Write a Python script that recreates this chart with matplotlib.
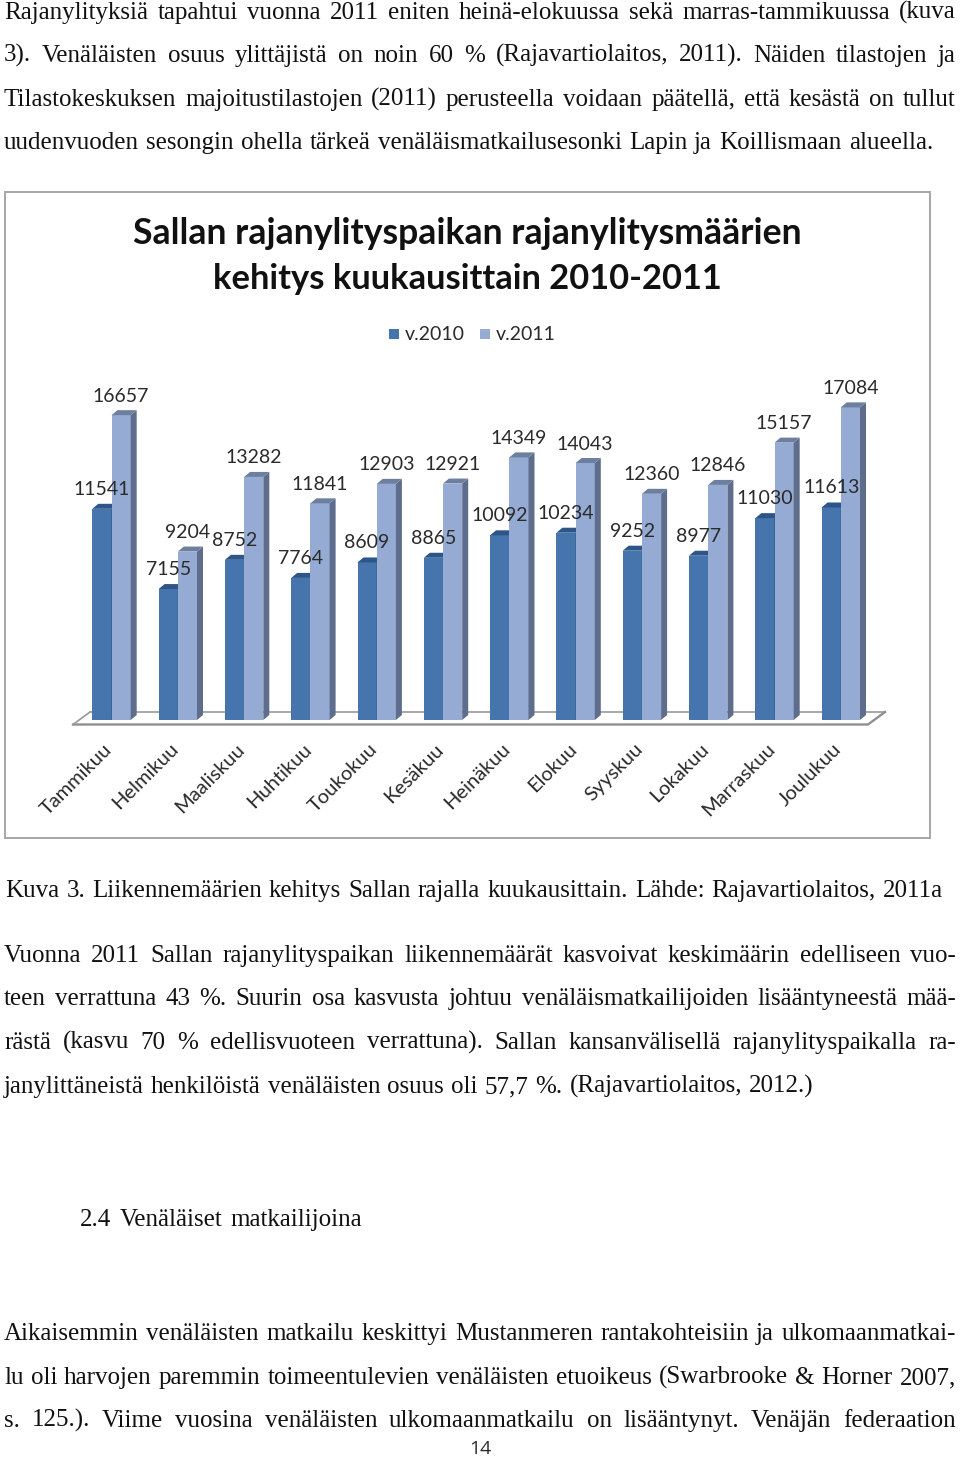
import matplotlib
matplotlib.use("Agg")
import matplotlib.pyplot as plt
from matplotlib.patches import Rectangle

W, H = 960, 1460

months = ["Tammikuu", "Helmikuu", "Maaliskuu", "Huhtikuu", "Toukokuu", "Kesäkuu",
          "Heinäkuu", "Elokuu", "Syyskuu", "Lokakuu", "Marraskuu", "Joulukuu"]
v2010 = [11541, 7155, 8752, 7764, 8609, 8865, 10092, 10234, 9252, 8977, 11030, 11613]
v2011 = [16657, 9204, 13282, 11841, 12903, 12921, 14349, 14043, 12360, 12846, 15157, 17084]

title_lines = ["Sallan rajanylityspaikan rajanylitysmäärien", "kehitys kuukausittain 2010-2011"]

# page text: (text, baseline y, left px, right px)
page_text = [
    ("Rajanylityksiä tapahtui vuonna 2011 eniten heinä-elokuussa sekä marras-tammikuussa (kuva", 19, 4, 956),
    ("3). Venäläisten osuus ylittäjistä on noin 60 % (Rajavartiolaitos, 2011). Näiden tilastojen ja", 62, 4, 956),
    ("Tilastokeskuksen majoitustilastojen (2011) perusteella voidaan päätellä, että kesästä on tullut", 106, 4, 956),
    ("uudenvuoden sesongin ohella tärkeä venäläismatkailusesonki Lapin ja Koillismaan alueella.", 149, 4, 933),
    ("Kuva 3. Liikennemäärien kehitys Sallan rajalla kuukausittain. Lähde: Rajavartiolaitos, 2011a", 897, 5, 943),
    ("Vuonna 2011 Sallan rajanylityspaikan liikennemäärät kasvoivat keskimäärin edelliseen vuo-", 962, 4, 956),
    ("teen verrattuna 43 %. Suurin osa kasvusta johtuu venäläismatkailijoiden lisääntyneestä mää-", 1005, 4, 956),
    ("rästä (kasvu 70 % edellisvuoteen verrattuna). Sallan kansanvälisellä rajanylityspaikalla ra-", 1049, 4, 956),
    ("janylittäneistä henkilöistä venäläisten osuus oli 57,7 %. (Rajavartiolaitos, 2012.)", 1093, 4, 814),
    ("2.4 Venäläiset matkailijoina", 1226, 80, 362),
    ("Aikaisemmin venäläisten matkailu keskittyi Mustanmeren rantakohteisiin ja ulkomaanmatkai-", 1340, 4, 956),
    ("lu oli harvojen paremmin toimeentulevien venäläisten etuoikeus (Swarbrooke & Horner 2007,", 1384, 4, 956),
    ("s. 125.). Viime vuosina venäläisten ulkomaanmatkailu on lisääntynyt. Venäjän federaation", 1427, 4, 956),
]

c2010, c2010_top = "#4674ac", "#2d5588"
c2011, c2011_top, c2011_side = "#95abd3", "#6d7f9f", "#5f6d8c"
text_dark = "#2a2a2a"

fig = plt.figure(figsize=(W / 100, H / 100), dpi=100, facecolor="white")

# axes covers the chart from the baseline up to the frame top
px_per_cat = 66.3
px_per_unit = 0.0183
ax = fig.add_axes([5 / W, (H - 720) / H, 925 / W, 528 / H])
ax.set_xlim((5 - 111.5) / px_per_cat, (930 - 111.5) / px_per_cat)
ax.set_ylim(0, 528 / px_per_unit)
ax.patch.set_visible(False)
for s in ax.spines.values():
    s.set_visible(False)
ax.set_yticks([])

dx = 6 / px_per_cat
dy = 5 / px_per_unit
w = 19.2 / px_per_cat

# floor of the 3D plot
fx0, fx1 = (73 - 111.5) / px_per_cat, (885 - 111.5) / px_per_cat
fdx = 17 / px_per_cat
fy = -4.5 / px_per_unit
ax.plot([fx0 + fdx, fx1], [8 / px_per_unit] * 2, color="#999999", lw=1.2, zorder=1, clip_on=False)
ax.plot([fx0, fx1 - fdx, fx1], [fy, fy, 8 / px_per_unit], color="#8f8f8f", lw=1.7, zorder=1, clip_on=False)
ax.plot([fx0, fx0 + fdx], [fy, 8 / px_per_unit], color="#999999", lw=1.2, zorder=1, clip_on=False)


def bar3d(left, val, col, col_top, col_side, z):
    ax.bar(left, val, width=w, align="edge", color=col, lw=0, zorder=z)
    r = left + w
    ax.fill([r, r + dx, r + dx, r], [0, dy, val + dy, val], color=col_side, lw=0, zorder=z)
    ax.fill([left, left + dx, r + dx, r], [val, val + dy, val + dy, val], color=col_top, lw=0, zorder=z)


for i in range(len(months)):
    bar3d(i - w, v2010[i], c2010, c2010_top, "#33567f", 2 + i * 2)
    bar3d(i, v2011[i], c2011, c2011_top, c2011_side, 3 + i * 2)

    ax.annotate(str(v2010[i]), (i - w / 2, v2010[i]), xytext=(0, 19.5 * 0.72), textcoords="offset points",
                ha="center", va="center", fontsize=14, family="Lato", color=text_dark, zorder=60)
    ax.annotate(str(v2011[i]), (i + w / 2, v2011[i]), xytext=(0, 19 * 0.72), textcoords="offset points",
                ha="center", va="center", fontsize=14, family="Lato", color=text_dark, zorder=60)

ax.set_xticks([i - 0.03 for i in range(len(months))])
ax.set_xticklabels(months, rotation=45, ha="right", va="center", rotation_mode="anchor",
                   fontsize=14.5, family="Lato", color=text_dark)
ax.tick_params(axis="x", length=0, pad=19)

# chart frame, title and legend
fig.add_artist(Rectangle((5 / W, (H - 838) / H), 925 / W, 646 / H, transform=fig.transFigure,
                         fill=False, edgecolor="#a6a6a6", lw=1.4))
fig.text(467 / W, 1 - 234 / H, title_lines[0], ha="center", va="center", fontsize=25.7,
         family="Lato", fontweight="bold", color="#111111")
fig.text(467 / W, 1 - 279 / H, title_lines[1], ha="center", va="center", fontsize=24.8,
         family="Lato", fontweight="bold", color="#111111")
for x0, col, lab in [(389, c2010, "v.2010"), (480, c2011, "v.2011")]:
    fig.add_artist(Rectangle((x0 / W, 1 - 339 / H), 10 / W, 10 / H, transform=fig.transFigure,
                             facecolor=col, edgecolor="none"))
    fig.text((x0 + 16) / W, 1 - 335 / H, lab, ha="left", va="center", fontsize=14,
             family="Lato", color=text_dark)

# body text, justified word by word between the left and right edges
rend = fig.canvas.get_renderer()
for line, y, x0, x1 in page_text:
    words = line.split(" ")
    items = [fig.text(0, 1 - y / H, t, ha="left", va="baseline", fontsize=18.0,
                      family="Liberation Serif", color="#111111") for t in words]
    widths = [t.get_window_extent(rend).width for t in items]
    gap = (x1 - x0 - sum(widths)) / max(len(words) - 1, 1)
    x = x0
    for t, wd in zip(items, widths):
        t.set_x(x / W)
        x += wd + gap

fig.text(480 / W, 1 - 1449 / H, "14", ha="center", va="center", fontsize=14,
         family="Open Sans", color=text_dark)

fig.savefig("out.png", dpi=100)
